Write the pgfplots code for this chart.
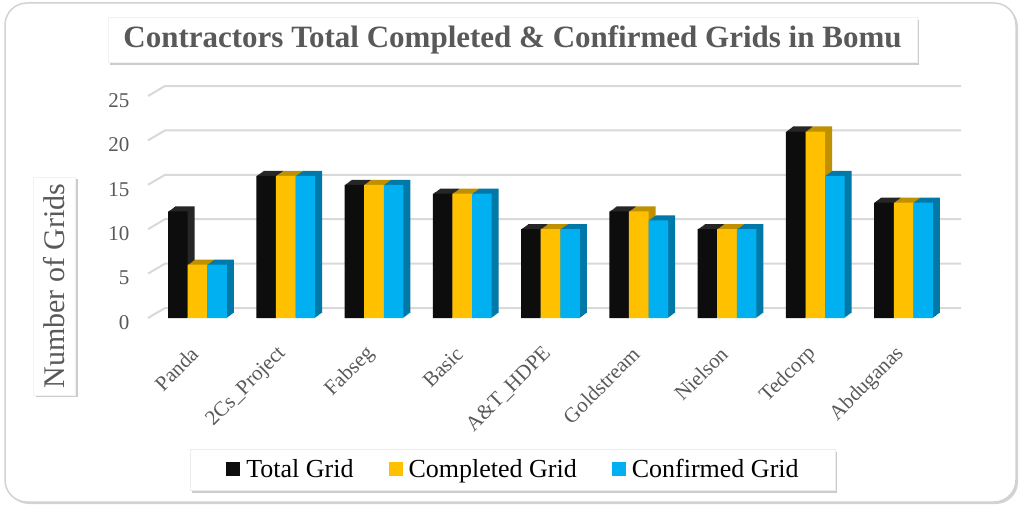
\documentclass[border=0pt]{standalone}
\usepackage{fontspec}
\setmainfont{Liberation Serif}
\usepackage{pgfplots}
\usepackage{pgfplotstable}
\pgfplotsset{compat=1.18}
\usetikzlibrary{shadows}

\definecolor{txtgray}{HTML}{595959}
\definecolor{totc}{HTML}{0D0D0D}
\definecolor{totd}{HTML}{262626}
\definecolor{compc}{HTML}{FFC000}
\definecolor{compd}{HTML}{BF9000}
\definecolor{confc}{HTML}{00B0F0}
\definecolor{confd}{HTML}{0079A8}
\definecolor{gridc}{HTML}{D9D9D9}

% contractors, x = 0..8
\pgfplotstableread{
x total completed confirmed
0 12 6  6
1 16 16 16
2 15 15 15
3 14 14 14
4 10 10 10
5 12 12 11
6 10 10 10
7 21 21 16
8 13 13 13
}\grids

% one series: darker copies for the 3D side/top, then the front face
\newcommand\barset[4]{%
  \pgfplotsinvokeforeach{1,...,7}{%
    \addplot[forget plot, ybar, bar width=19.6pt, bar shift=#4, fill=#3, draw=none,
      xshift=##1pt, yshift={0.72*##1pt}] table[x=x, y=#1] {\grids};
  }
  \addplot[ybar, bar width=19.6pt, bar shift=#4, fill=#2, draw=none] table[x=x, y=#1] {\grids};
}

\begin{document}
\begin{tikzpicture}[x=1pt, y=1pt]
  \path (0,0) rectangle (1024,-513);
  % outer frame
  \draw[gray!35, line width=1.5pt, rounded corners=22pt, fill=white,
    drop shadow={shadow xshift=2pt, shadow yshift=-2pt, opacity=0.35}]
    (5,-3) rectangle (1016,-502);
  % title
  \node[fill=white, draw=gray!10, minimum width=809pt, minimum height=45pt,
    drop shadow={shadow xshift=2pt, shadow yshift=-3pt, opacity=0.4},
    text=txtgray, font=\fontsize{31}{31}\selectfont\bfseries]
    at (512.5,-39.5) {Contractors Total Completed \& Confirmed Grids in Bomu};
  % y label
  \node[fill=white, draw=gray!10, minimum width=218pt, minimum height=42pt, rotate=90,
    drop shadow={shadow xshift=3pt, shadow yshift=-2pt, opacity=0.4},
    text=txtgray, font=\fontsize{30}{30}\selectfont]
    at (54,-286) {Number of Grids};
  % legend box
  \draw[draw=gray!15, fill=white,
    drop shadow={shadow xshift=2pt, shadow yshift=-3pt, opacity=0.4}]
    (190,-449) rectangle (835,-490);

  \begin{axis}[
    at={(148pt,-318pt)}, anchor=south west,
    scale only axis, width=805pt, height=222pt,
    xmin=-0.56, xmax=8.56, ymin=0, ymax=25,
    clip=false,
    axis line style={draw=none},
    major tick length=0pt,
    xtick={0,...,8},
    xticklabels={Panda, 2Cs\_Project, Fabseg, Basic, A\&T\_HDPE, Goldstream, Nielson, Tedcorp, Abduganas},
    ytick={0,5,...,25},
    /pgf/number format/assume math mode=true,
    ticklabel style={text=txtgray},
    yticklabel style={font=\fontsize{21}{21}\selectfont, anchor=east, xshift=-15pt, yshift=-4.5pt},
    xticklabel style={font=\fontsize{21}{21}\selectfont, rotate=45, anchor=east, inner sep=0pt,
      xshift=-25pt, yshift=-21pt},
    legend columns=3,
    legend image code/.code={\fill[#1, draw=none] (0pt,-7pt) rectangle (14pt,7pt);},
    legend style={at={(0.4528,-0.682)}, anchor=center, draw=none, fill=none,
      font=\fontsize{26}{26}\selectfont, inner xsep=30pt, inner ysep=7pt,
      nodes={inner sep=0pt, text depth=0.2em},
      /tikz/every odd column/.append style={column sep=6pt},
      /tikz/every even column/.append style={column sep=35pt}},
  ]
    % floor/back-wall grid lines
    \pgfplotsinvokeforeach{0,5,...,25}{%
      \draw[gridc, line width=2pt]
        (axis cs:-0.56,#1) -- ([shift={(17pt,10pt)}]axis cs:-0.56,#1)
        -- ([shift={(8pt,10pt)}]axis cs:8.56,#1);
    }
    \barset{total}{totc}{totd}{-19.6pt}
    \addlegendentry{Total Grid}
    \barset{completed}{compc}{compd}{0pt}
    \addlegendentry{Completed Grid}
    \barset{confirmed}{confc}{confd}{19.6pt}
    \addlegendentry{Confirmed Grid}
  \end{axis}
\end{tikzpicture}
\end{document}
